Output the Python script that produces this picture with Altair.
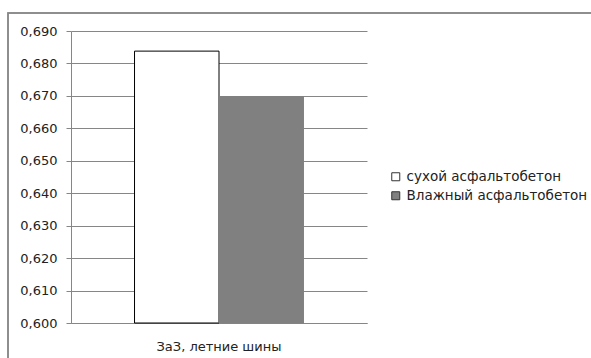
import altair as alt
import pandas as pd

category = ["ЗаЗ, летние шины"]
series = ["сухой асфальтобетон", "Влажный асфальтобетон"]
values = [0.6838, 0.6698]
colors = ["#ffffff", "#808080"]
y_ticks = [0.60, 0.61, 0.62, 0.63, 0.64, 0.65, 0.66, 0.67, 0.68, 0.69]
y_base = 0.60

df = pd.DataFrame({
    "cat": [category[0]] * len(series),
    "series": series,
    "value": values,
})

FONT = "DejaVu Sans"
GRID = "#868686"

bars = alt.Chart(df).mark_bar(strokeWidth=1).encode(
    x=alt.X("cat:N", title=None,
            scale=alt.Scale(paddingInner=0, paddingOuter=0.376),
            axis=alt.Axis(labelAngle=0, ticks=False, domainColor=GRID,
                          labelPadding=17, labelFontSize=13, labelFont=FONT,
                          labelColor="#222222")),
    xOffset=alt.XOffset("series:N", sort=series,
                        scale=alt.Scale(paddingInner=0, paddingOuter=0)),
    y=alt.Y("value:Q", title=None,
            scale=alt.Scale(domain=[0.60, 0.69], nice=False, zero=False),
            axis=alt.Axis(values=y_ticks,
                          labelExpr="replace(format(datum.value, '.3f'), '.', ',')",
                          grid=True, gridColor=GRID, gridWidth=1,
                          domainColor=GRID, tickColor=GRID, tickSize=5,
                          labelFontSize=13, labelFont=FONT, labelColor="#222222",
                          labelPadding=9)),
    y2=alt.Y2(datum=y_base),
    color=alt.Color("series:N", sort=series,
                    scale=alt.Scale(domain=series, range=colors),
                    legend=alt.Legend(title=None, orient="none", legendX=318,
                                      legendY=139, symbolType="square",
                                      symbolSize=64, symbolStrokeWidth=1,
                                      symbolStrokeColor="#333333",
                                      labelFont=FONT, labelFontSize=13.5,
                                      labelColor="#222222", labelOffset=4,
                                      labelLimit=0,
                                      rowPadding=4, padding=0)),
    stroke=alt.condition(alt.datum.series == series[0], alt.value("#000000"),
                         alt.value("#808080")),
)

frame = alt.Chart(df).mark_rect(fill=None, stroke=GRID, strokeWidth=1.5).encode(
    x=alt.value(-63), x2=alt.value(620), y=alt.value(-18), y2=alt.value(400)
)

chart = alt.layer(frame, bars).properties(
    width=296, height=292,
    padding={"left": 71, "top": 31, "right": 224, "bottom": 35},
    autosize=alt.AutoSizeParams(type="none"),
    background="white",
).configure_view(stroke=None)

chart.save("out.html", embed_options={"renderer": "svg", "actions": False})
